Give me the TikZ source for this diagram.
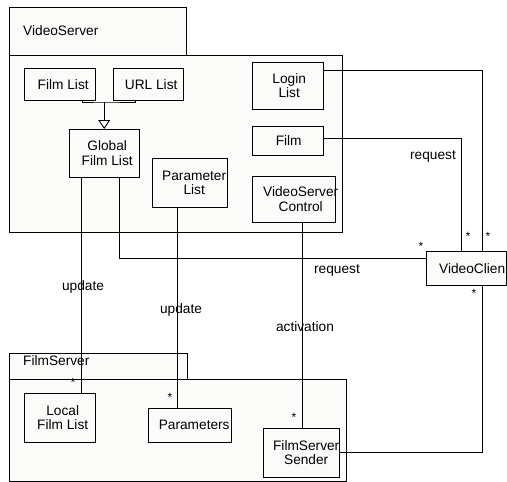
\documentclass[tikz,border=0pt]{standalone}
\usepackage{fontspec}
\setmainfont{Liberation Sans}
\usetikzlibrary{calc,arrows.meta}
\definecolor{boxfill}{RGB}{251,251,249}
\pgfdeclarelayer{pk}
\pgfdeclarelayer{ln}
\pgfsetlayers{pk,ln,main}
\begin{document}
\begin{tikzpicture}[x=1pt,y=-1pt,line width=0.9pt,
  txt/.style={inner sep=0pt,align=center,font=\fontsize{13.7}{14.5}\selectfont},
  pkg/.style={draw,fill=boxfill,anchor=north west,inner sep=0pt},
  cls/.style={draw,fill=boxfill,anchor=north west,inner sep=0pt},
  star/.style={inner sep=0pt,font=\fontsize{12}{12}\selectfont},
  conn/.style={draw=black,line width=0.9pt}]
\useasboundingbox (0,0) rectangle (507,482);

% packages
\begin{pgfonlayer}{pk}
\node[pkg,minimum width=177pt,minimum height=48pt] (vstab) at (9,7) {};
\node[pkg,minimum width=333pt,minimum height=177pt] (vsbody) at (9,55) {};
\node[pkg,minimum width=178pt,minimum height=26pt] (fstab) at (9,353) {};
\node[pkg,minimum width=337pt,minimum height=102pt] (fsbody) at (9,379) {};
\end{pgfonlayer}
\node[txt,anchor=west] (vstitle) at (23,31) {VideoServer};
\node[txt,anchor=west] (fstitle) at (23,361) {FilmServer};

% classes
\node[cls,minimum width=71pt,minimum height=32pt,label={[txt,xshift=3.5pt]center:Film List}] (filmlist) at (24,68) {};
\node[cls,minimum width=70pt,minimum height=32pt,label={[txt,xshift=3pt]center:URL List}] (urllist) at (113,68) {};
\node[cls,minimum width=70pt,minimum height=48pt,label={[txt,xshift=3pt]center:Global\\Film List}] (global) at (69,129) {};
\node[cls,minimum width=75pt,minimum height=49pt,label={[txt,xshift=4.5pt]center:Parameter\\List}] (paramlist) at (152,158) {};
\node[cls,minimum width=71pt,minimum height=47pt,label={[txt,xshift=1.5pt]center:Login\\List}] (login) at (252,62) {};
\node[cls,minimum width=71pt,minimum height=29pt,label={[txt,xshift=1pt]center:Film}] (film) at (252,126) {};
\node[cls,minimum width=83pt,minimum height=46pt,label={[txt,xshift=7pt]center:VideoServer\\Control}] (vsctrl) at (252,176) {};
\node[cls,minimum width=80pt,minimum height=34pt,label={[txt,xshift=6pt]center:VideoClien}] (client) at (426,251) {};
\node[cls,minimum width=71pt,minimum height=49pt,label={[txt,xshift=3pt]center:Local\\Film List}] (localfilm) at (24,393) {};
\node[cls,minimum width=83pt,minimum height=34pt,label={[txt,xshift=4.5pt]center:Parameters}] (params) at (148,408) {};
\node[cls,minimum width=76pt,minimum height=49pt,label={[txt,xshift=5pt]center:FilmServer\\Sender}] (sender) at (263,428) {};

% connectors
\begin{pgfonlayer}{ln}
\coordinate (bar) at ($(global.north)+(0,-27)$);
\draw[conn] ($(filmlist.south east)+(-13,0)$) |- (bar) -| ($(urllist.south west)+(22,0)$);
\draw[conn,-{Triangle[open,length=9pt,width=12pt]}] (bar) -- (global.north);
\draw[conn] ($(login.north east)+(0,8)$) -| ($(client.north)+(16,0)$);
\draw[conn] ($(film.east)+(0,-2.5)$) -| ($(client.north)+(-5,0)$);
\draw[conn] ($(global.south)+(15,0)$) |- ($(client.west)+(0,-10)$);
\draw[conn] ($(global.south)+(-23,0)$) coordinate (g1) -- (g1 |- localfilm.north);
\draw[conn] ($(paramlist.south)+(-12.5,0)$) coordinate (p1) -- (p1 |- params.north);
\draw[conn] ($(vsctrl.south)+(8.5,0)$) coordinate (v1) -- (v1 |- sender.north);
\draw[conn] ($(client.south)+(16,0)$) |- (sender.east);
\end{pgfonlayer}

% connector labels
\node[txt] (upd1) at (83,287) {update};
\node[txt] (upd2) at (181,310) {update};
\node[txt] (act) at (305,327) {activation};
\node[txt] (req1) at (337,270) {request};
\node[txt] (req2) at (433,156) {request};

% multiplicities
\node[star] (s1) at (73,382) {*};
\node[star] (s2) at (170,397) {*};
\node[star] (s3) at (294,417) {*};
\node[star] (s4) at (421,246) {*};
\node[star] (s5) at (468,236) {*};
\node[star] (s6) at (488,236) {*};
\node[star] (s7) at (474,293) {*};
\end{tikzpicture}
\end{document}
